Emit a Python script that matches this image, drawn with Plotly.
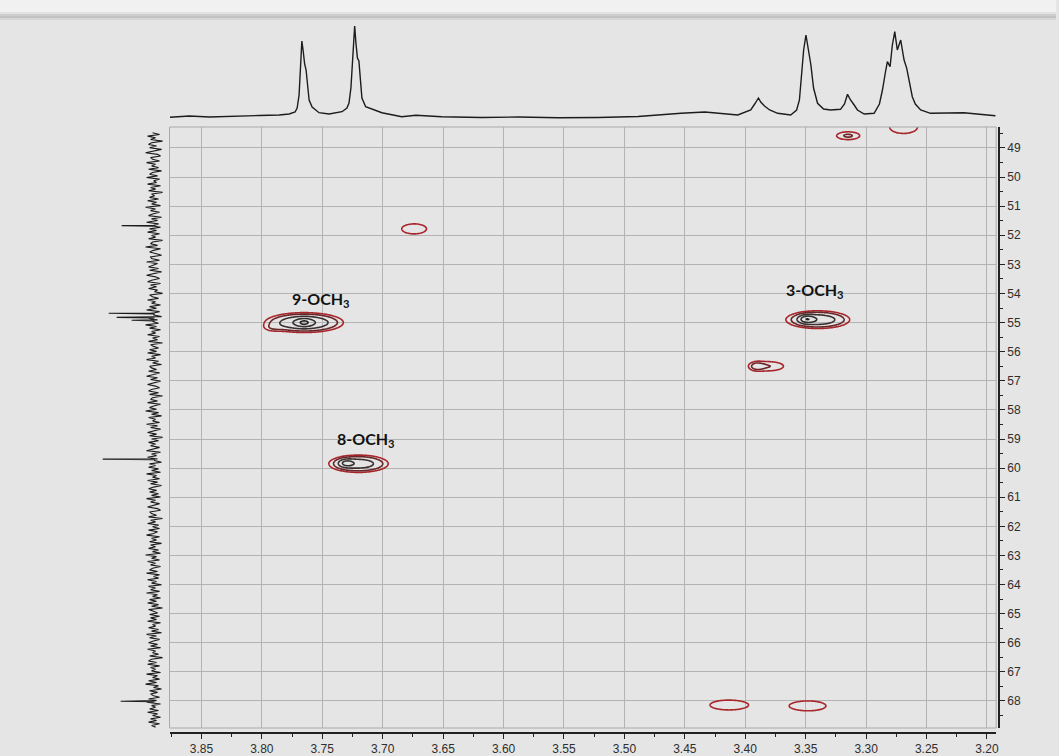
import numpy as np
import plotly.graph_objects as go

W, H = 1059, 756

# ---------------- 1H projection (top trace): chemical shift (ppm) / intensity
h_ppm = [3.876, 3.8599, 3.8434, 3.8187, 3.8022, 3.7857, 3.7774, 3.7725, 3.7708, 3.7692,
         3.7679, 3.7669, 3.7659, 3.7646, 3.7634, 3.7621, 3.7609, 3.7584, 3.7527, 3.7444,
         3.7337, 3.7296, 3.7279, 3.7263, 3.7246, 3.7232, 3.7221, 3.7209, 3.7197, 3.7184,
         3.7172, 3.7141, 3.7007, 3.6842, 3.6726, 3.6512, 3.6182, 3.5877, 3.5547, 3.5217,
         3.4887, 3.4532, 3.4334, 3.4062, 3.3955, 3.3922, 3.3891, 3.3872, 3.3841, 3.3798,
         3.3732, 3.3624, 3.3575, 3.3552, 3.3534, 3.3517, 3.3498, 3.3484, 3.3472, 3.3457,
         3.3435, 3.3402, 3.3352, 3.3294, 3.3212, 3.3179, 3.3154, 3.3129, 3.3099, 3.3072,
         3.3016, 3.2934, 3.2890, 3.2865, 3.2840, 3.2824, 3.2802, 3.2783, 3.2763, 3.2742,
         3.2714, 3.2686, 3.2664, 3.2642, 3.2618, 3.2593, 3.2549, 3.2467, 3.2329, 3.2191,
         3.2040, 3.1930]
h_int = [-0.3, 1, 0, 0.5, 1.5, 2, 3, 5, 9, 22,
         52, 76, 67, 53, 47, 31, 17, 10, 4.3, 3,
         5.3, 9, 14, 29, 62, 91, 73, 59, 56, 37,
         19, 10.3, 4.3, 0.3, 1.7, 0.3, -0.5, 0, -0.8, -0.5,
         0.5, 3.7, 5, 2, 7, 13, 19, 15, 11, 7,
         3.7, 2, 7, 17, 42, 67, 82, 72, 59, 52,
         29, 13.7, 8, 7, 7.7, 13, 22.7, 17, 12, 7,
         3, 3.7, 13, 27, 45, 55.3, 50.3, 72, 85.3, 67,
         77, 57, 48.7, 35, 20.3, 13, 7, 3.7, 4, 4.3,
         2.5, 1.3]

# ---------------- 13C projection (left trace): baseline noise + resolved lines
c_noise = [
    2, -5, 7, -1, 4, -8, 3, 6, -2, 5, -7, 1, 9, -3, -6, 4, 2, -5, 8, -1,
    3, -4, 6, -7, 2, 5, -3, 8, -5, 1, -2, 7, -6, 4, -1, 6, -8, 3, 0, 5,
    -4, 7, -2, 3, -6, 9, -1, 4, -5, 2, 6, -7, 3, -3, 8, -4, 1, -6, 5, -2,
    7, -5, 3, -1, 6, -8, 2, 4, -3, 9, -6, 1, 5, -2, -7, 4, 3, -5, 8, -3,
    1, 6, -4, 5, -7, 2, 8, -1, -5, 3, 7, -6, 4, -2, 6, -3, 0, -8, 5, 2,
    -4, 7, -1, 3, -6, 5, -2, 8, -5, 4, 1, -7, 6, -3, 2, -4, 9, -2, 5, -6,
    3, -1, 7, -5, 2, -3, 6, -8, 4, 1, -4, 5, -2, 7, -6, 3, -1, 8, -4, 2,
    -7, 5, 3, -2, 6, -5, 1, 8, -3, 4, -6, 2, 7, -1, -5, 3, 6, -4, 5, -8,
    2, 4, -3, 7, -6, 1, 5, -2, 9, -4, 3, -7, 6, -1, 2, -5, 8, -3, 4, -6,
    1, 7, -2, 5, -8, 3, -4, 6, -1, 4, -5, 2, 8, -6, 3, -2, 7, -3, 0, -7,
    5, -1, 6, -4, 3, -6, 8, -2, 2, -5, 7, -3, 4, -7, 1, 6, -2, 5, -4, 3,
    -6, 8, -1, 4, -5, 2, 7, -3, -6, 5, 3, -2, 6, -8, 4, -1, 7, -4, 2, -5,
    6, -3, 1, 8, -5, 3, -2, 5, -7, 4, -1, 6, -4, 2, -6, 9, -2, 3, -5, 7,
    -1, 4, -6, 2, 5, -3, 8, -5, 1, -4, 7, -2, 3, -7, 6, -1, 4, -5, 8, -3,
    2, -6, 5, -2, 7, -4, 3, -8, 6, 1, -3, 5, -5, 4, -2, 7, -6, 2, -1, 6,
    -4, 3, -7, 8, -2, 5, -5, 1, 6, -3, 4, -6, 7, -1, 2, -4, 5, -8, 3, 6,
    -2, 7, -5, 4, -1, 3, -6, 8, -3, 2, -5, 6, -2, 9, -4, 1, -7, 5, -3, 4,
    1, -5, 6, -2, 8, -6, 3, -1, 5, -4, 7, -3, 2, -6, 4, -2, 6, -5, 3, -1,
]
c_start, c_stop = 48.48, 68.90
c_peak_ppm = [51.67, 54.68, 54.82, 54.92, 59.69, 68.01]
c_peak_height = [33, 46, 38, 23, 52, 34]

# ---------------- HSQC cross peaks: dH, dC, width H, width C, intensity
pk_h = [3.765, 3.765, 3.792, 3.720, 3.730, 3.340, 3.349, 3.381, 3.391,
        3.674, 3.315, 3.269, 3.4136, 3.348]
pk_c = [55.00, 55.00, 55.20, 59.85, 59.83, 54.90, 54.88, 56.50, 56.50,
        51.78, 48.58, 48.28, 68.14, 68.17]
pk_wh = [0.0190, 0.0041, 0.0060, 0.0157, 0.0041, 0.0165, 0.0041, 0.0140, 0.0040,
         0.0125, 0.0097, 0.0140, 0.0190, 0.0180]
pk_wc = [0.200, 0.086, 0.100, 0.190, 0.086, 0.190, 0.086, 0.175, 0.110,
         0.210, 0.138, 0.270, 0.206, 0.206]
pk_amp = [4.3, 2.4, 0.6, 3.4, 2.3, 3.6, 3.0, 1.5, 0.9,
          1.4, 1.6, 1.4, 1.4, 1.4]

levels = [1.0, 1.5, 2.5, 4.0, 6.0]
level_colors = ["#a8262b", "#6a2628", "#3d3030", "#333030", "#222222"]

labels = ["9-OCH<sub>3</sub>", "8-OCH<sub>3</sub>", "3-OCH<sub>3</sub>"]
label_h = [3.751, 3.714, 3.342]
label_c = [54.22, 59.03, 53.91]

x_ticks = [3.85, 3.80, 3.75, 3.70, 3.65, 3.60, 3.55, 3.50, 3.45, 3.40, 3.35, 3.30, 3.25, 3.20]
y_ticks = list(range(49, 69))

# ---------------- geometry (pixels -> paper fractions)
def px(v):
    return v / W


def py(v):
    return 1 - v / H


X_RANGE = [3.8764, 3.1924]
Y_RANGE = [68.93, 48.28]
main_x = [px(170), px(999)]
main_y = [py(728), py(127)]

BG = "#e5e5e5"
GRID = "#b3b3b3"
INK = "#1c1c1c"

fig = go.Figure()

# 2D map from the cross-peak table
gh = np.linspace(3.19, 3.88, 800)
gc = np.linspace(48.0, 69.2, 700)
GH, GC = np.meshgrid(gh, gc)
Z = np.zeros_like(GH)
for h0, c0, wh, wc, a in zip(pk_h, pk_c, pk_wh, pk_wc, pk_amp):
    Z += a * np.exp(-0.5 * (((GH - h0) / wh) ** 2 + ((GC - c0) / wc) ** 2))

for lev, col in zip(levels, level_colors):
    fig.add_trace(go.Contour(
        x=gh, y=gc, z=Z, xaxis="x", yaxis="y",
        contours=dict(start=lev, end=lev, size=1, coloring="none"),
        line=dict(color=col, width=1.6, smoothing=1),
        showscale=False, hoverinfo="skip"))

# 1H projection
fig.add_trace(go.Scatter(x=h_ppm, y=h_int, xaxis="x2", yaxis="y2", mode="lines",
                         line=dict(color=INK, width=1.4), hoverinfo="skip"))

# 13C projection
c_axis = np.linspace(c_start, c_stop, len(c_noise))
pts = list(zip(c_axis, c_noise))
for p, hgt in zip(c_peak_ppm, c_peak_height):
    pts += [(p - 0.02, 0), (p, hgt), (p + 0.02, 0)]
pts.sort(key=lambda t: t[0])
fig.add_trace(go.Scatter(x=[t[1] for t in pts], y=[t[0] for t in pts], xaxis="x3", yaxis="y3",
                         mode="lines", line=dict(color=INK, width=1.1), hoverinfo="skip"))

tick_font = dict(family="Liberation Sans, Arial, sans-serif", size=12, color="#2e2e2e")

fig.update_layout(
    width=W, height=H, margin=dict(l=0, r=0, t=0, b=0),
    paper_bgcolor=BG, plot_bgcolor=BG, showlegend=False,
    xaxis=dict(domain=main_x, range=X_RANGE, anchor="free", position=py(733),
               tickvals=x_ticks, ticktext=[f"{v:.2f}" for v in x_ticks],
               showgrid=True, gridcolor=GRID, gridwidth=1, zeroline=False,
               showline=True, linecolor="#222", linewidth=1.6,
               ticks="outside", ticklen=5, tickwidth=1.4, tickcolor="#222",
               minor=dict(dtick=0.025, tick0=3.2, ticks="outside", ticklen=3, tickcolor="#222",
                          showgrid=False),
               tickfont=tick_font),
    yaxis=dict(domain=main_y, range=Y_RANGE, anchor="free", position=px(1002), side="right",
               tickvals=y_ticks, showgrid=True, gridcolor=GRID, gridwidth=1, zeroline=False,
               showline=True, linecolor="#222", linewidth=1.6,
               ticks="outside", ticklen=5, tickwidth=1.4, tickcolor="#222",
               minor=dict(dtick=0.5, tick0=49, ticks="outside", ticklen=3, tickcolor="#222",
                          showgrid=False),
               tickfont=tick_font),
    xaxis2=dict(domain=main_x, range=X_RANGE, anchor="y2", visible=False),
    yaxis2=dict(domain=[py(122), py(22)], range=[-5, 95], anchor="x2", visible=False),
    xaxis3=dict(domain=[px(95), px(169)], range=[60, -14], anchor="y3", visible=False),
    yaxis3=dict(domain=main_y, range=Y_RANGE, anchor="x3", visible=False),
)

# plot frame
fig.add_shape(type="rect", xref="paper", yref="paper",
              x0=main_x[0], x1=main_x[1], y0=main_y[0], y1=main_y[1],
              line=dict(color="#a9a9a9", width=1), layer="above")

# window edge at the top
for y0, y1, col in [(0, 12, "#f1f1f1"), (12, 14, "#e2e2e2"), (14, 16, "#cdcdcd"),
                    (16, 18, "#c2c2c2"), (18, 20, "#d6d6d6")]:
    fig.add_shape(type="rect", xref="paper", yref="paper", x0=0, x1=1,
                  y0=py(y1), y1=py(y0), line=dict(width=0), fillcolor=col, layer="below")

for txt, hx_, cy_ in zip(labels, label_h, label_c):
    fig.add_annotation(x=hx_, y=cy_, xref="x", yref="y", text=f"<b>{txt}</b>",
                       showarrow=False, font=dict(family="Lato, Open Sans, sans-serif",
                                                  size=16, color="#111"))

fig.write_html("out.html")
